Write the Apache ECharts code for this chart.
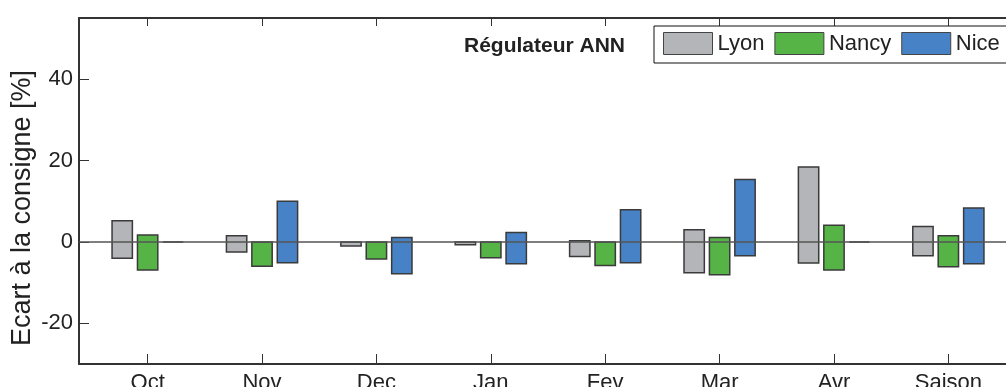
<!DOCTYPE html>
<html>
<head>
<meta charset="utf-8">
<script src="https://cdn.jsdelivr.net/npm/echarts@6/dist/echarts.min.js"></script>
<style>
html,body{margin:0;padding:0;background:#fff;}
#chart{width:1006px;height:387px;}
</style>
</head>
<body>
<div id="chart"></div>
<script>
const categories = ['Oct','Nov','Dec','Jan','Fev','Mar','Avr','Saison'];
const seriesNames = ['Lyon','Nancy','Nice'];
const lyonLow   = [-4.0, -2.5, -1.0, -0.7, -3.6, -7.6, -5.2, -3.4];
const lyonHigh  = [ 5.2,  1.5,  0.0,  0.0,  0.25, 3.0, 18.4,  3.8];
const nancyLow  = [-6.9, -6.0, -4.2, -3.9, -5.8, -8.1, -6.9, -6.1];
const nancyHigh = [ 1.7,  0.0,  0.0,  0.0,  0.0,  1.1,  4.1,  1.5];
const niceLow   = [ 0.0, -5.1, -7.8, -5.4, -5.1, -3.4,  0.0, -5.4];
const niceHigh  = [ 0.0, 10.0,  1.1,  2.3,  7.9, 15.3,  0.0,  8.3];
const yTicks = [-20, 0, 20, 40];
const yAxisTitle = 'Ecart à la consigne [%]';

const colors = ['#b4b5b8', '#56b446', '#4882c6'];
const offsets = [-0.2222, 0, 0.2222];
const barW = 0.1778;
const font = '"Liberation Sans", Arial, sans-serif';
const catPos = categories.map((c, i) => i + 1);

function mk(lo, hi) { return lo.map((v, i) => [i + 1, v, hi[i]]); }
const allData = [mk(lyonLow, lyonHigh), mk(nancyLow, nancyHigh), mk(niceLow, niceHigh)];

const series = seriesNames.map((name, s) => ({
  name: name,
  type: 'custom',
  itemStyle: { color: colors[s], borderColor: '#444', borderWidth: 1 },
  encode: { x: 0, y: [1, 2] },
  data: allData[s],
  z: 2,
  renderItem: function (params, api) {
    const x = api.value(0) + offsets[s];
    const lo = api.coord([x, api.value(1)]);
    const hi = api.coord([x, api.value(2)]);
    const w = api.size([barW, 0])[0];
    return {
      type: 'rect',
      shape: { x: lo[0] - w / 2, y: hi[1], width: w, height: lo[1] - hi[1] },
      style: { fill: colors[s], stroke: '#3a3a3a', lineWidth: 1.5 }
    };
  }
}));

series.push({
  name: 'zero', type: 'line', data: [], z: 5,
  markLine: {
    silent: true, symbol: 'none', label: { show: false },
    lineStyle: { color: '#555', width: 1.5, type: 'solid' },
    data: [{ yAxis: 0 }]
  }
});

const chart = echarts.init(document.getElementById('chart'), null, { renderer: 'canvas' });
chart.setOption({
  animation: false,
  backgroundColor: '#fff',
  textStyle: { fontFamily: font },
  title: {
    text: 'Régulateur ANN', left: 464, top: 36, padding: 0,
    textStyle: { fontFamily: font, fontSize: 21, fontWeight: 'bold', color: '#222' }
  },
  graphic: [{
    type: 'text', x: 23, y: 208, rotation: Math.PI / 2,
    style: { text: yAxisTitle, fontFamily: font, fontSize: 27, fill: '#222', align: 'center', verticalAlign: 'middle' }
  }],
  legend: {
    data: seriesNames.map((n, i) => ({ name: n, icon: 'rect', itemStyle: { color: colors[i], borderColor: '#444', borderWidth: 1 } })),
    left: 654, top: 26, orient: 'horizontal', width: 600,
    itemWidth: 49, itemHeight: 22, itemGap: 10,
    padding: [6, 10, 8, 9],
    borderColor: '#111', borderWidth: 1, backgroundColor: '#fff',
    textStyle: { fontFamily: font, fontSize: 22, color: '#222' },
    selectedMode: false
  },
  grid: { left: 79, right: -11, top: 18, bottom: 23, containLabel: false, outerBoundsMode: 'none' },
  xAxis: [{
    type: 'value', min: 0.4, max: 8.6, position: 'bottom',
    axisLine: { show: true, onZero: false, lineStyle: { color: '#333', width: 2 } },
    axisTick: { show: true, inside: true, length: 10, customValues: catPos, lineStyle: { color: '#333', width: 1 } },
    axisLabel: { show: true, customValues: catPos, margin: 8, fontSize: 22, color: '#222', fontFamily: font,
      formatter: v => categories[Math.round(v) - 1] },
    splitLine: { show: false }
  }, {
    type: 'value', min: 0.4, max: 8.6, position: 'top',
    axisLine: { show: true, onZero: false, lineStyle: { color: '#333', width: 2 } },
    axisTick: { show: true, inside: true, length: 8, customValues: catPos, lineStyle: { color: '#333', width: 1 } },
    axisLabel: { show: false },
    splitLine: { show: false }
  }],
  yAxis: {
    type: 'value', min: -30, max: 55,
    axisLine: { show: true, onZero: false, lineStyle: { color: '#333', width: 2 } },
    axisTick: { show: true, inside: true, length: 10, customValues: yTicks, lineStyle: { color: '#333', width: 1 } },
    axisLabel: { show: true, customValues: yTicks, margin: 6, fontSize: 22, color: '#222', fontFamily: font },
    splitLine: { show: false }
  },
  series: series
});
</script>
</body>
</html>
